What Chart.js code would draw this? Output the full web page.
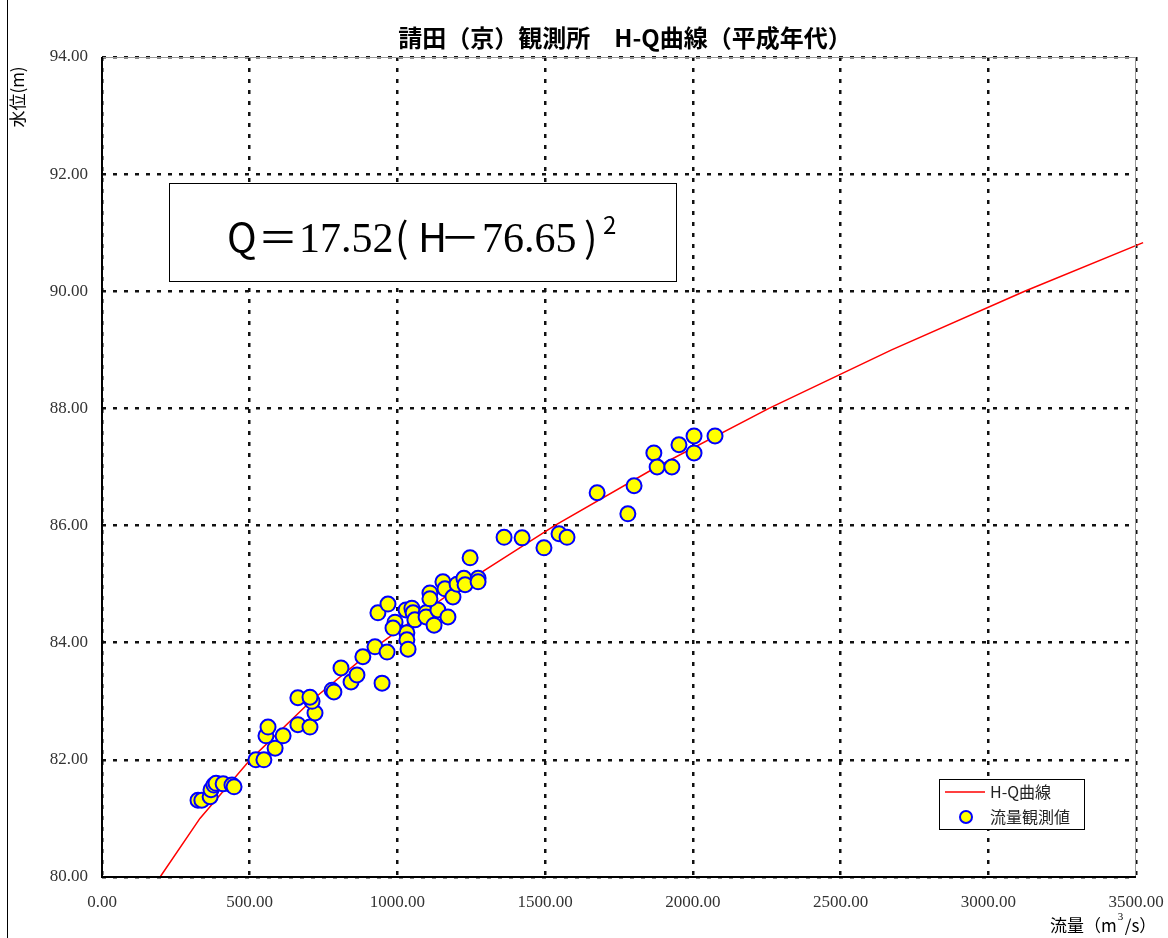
<!DOCTYPE html>
<html lang="ja">
<head>
<meta charset="UTF-8">
<title>請田（京）観測所 H-Q曲線</title>
<script src="https://cdn.jsdelivr.net/npm/chart.js@4.4.1/dist/chart.umd.min.js"></script>
<style>
  html, body { margin: 0; padding: 0; background: #fff; }
  #wrap { width: 1168px; height: 938px; }
</style>
</head>
<body>
<div id="wrap"><canvas id="hqChart" width="1168" height="938"></canvas></div>
<script>
// 流量観測値 (m3/s, m)
const obsQ = [325, 338, 366, 369, 379, 386, 410, 440, 447, 521, 548, 586, 555, 562, 613, 663, 704, 721,
  711, 663, 704, 779, 785, 809, 843, 863, 883, 924, 965, 948, 1032, 1032, 1036, 934, 968, 992, 985,
  1029, 1049, 1053, 1059, 1097, 1097, 1124, 1137, 1171, 1110, 1110, 1154, 1161, 1188, 1202, 1225,
  1229, 1273, 1273, 1246, 1361, 1422, 1496, 1547, 1574, 1676, 1780, 1801, 1868, 1879, 1929, 1953,
  2004, 2004, 2075];
const obsH = [81.31, 81.31, 81.37, 81.49, 81.57, 81.60, 81.59, 81.57, 81.54, 82.00, 82.00, 82.20,
  82.41, 82.56, 82.41, 82.60, 82.56, 82.80, 83.00, 83.06, 83.07, 83.19, 83.16, 83.57, 83.33, 83.45,
  83.76, 83.93, 83.84, 83.31, 84.17, 84.05, 83.89, 84.51, 84.66, 84.35, 84.25, 84.56, 84.59, 84.51,
  84.39, 84.51, 84.44, 84.30, 84.56, 84.44, 84.85, 84.75, 85.04, 84.92, 84.78, 85.00, 85.10, 84.99,
  85.10, 85.04, 85.45, 85.80, 85.79, 85.62, 85.86, 85.80, 86.56, 86.20, 86.68, 87.24, 87.00, 87.00,
  87.38, 87.53, 87.24, 87.53];

// H-Q曲線
const curveQ = [196.6, 331.5, 501.4, 706.5, 946.6, 1221.7, 1532.0, 1877.3, 2257.5, 2672.8, 3123.0, 3524];
const curveH = [80, 81, 82, 83, 84, 85, 86, 87, 88, 89, 90, 90.83];

const xTicks = [0, 500, 1000, 1500, 2000, 2500, 3000, 3500];
const yTicks = [80, 82, 84, 86, 88, 90, 92, 94];

const serif = '"Liberation Serif", "DejaVu Serif", serif';
const jp = '"Noto Sans CJK JP", "Noto Sans", sans-serif';

// タイトル・式・凡例など
const decorPlugin = {
  id: 'decor',
  afterDraw(chart) {
    const ctx = chart.ctx;
    const a = chart.chartArea;
    ctx.save();

    // 外枠（左）
    ctx.strokeStyle = '#000';
    ctx.lineWidth = 1;
    ctx.beginPath();
    ctx.moveTo(7.5, 0);
    ctx.lineTo(7.5, chart.height);
    ctx.stroke();

    // 軸
    ctx.strokeStyle = '#999';
    ctx.beginPath();
    ctx.moveTo(a.left, a.top + 0.5);
    ctx.lineTo(a.right, a.top + 0.5);
    ctx.moveTo(a.right - 0.5, a.top);
    ctx.lineTo(a.right - 0.5, a.bottom);
    ctx.stroke();
    ctx.strokeStyle = '#000';
    ctx.lineWidth = 2;
    ctx.beginPath();
    ctx.moveTo(a.left, a.top);
    ctx.lineTo(a.left, a.bottom);
    ctx.lineTo(a.right, a.bottom);
    ctx.stroke();

    // タイトル
    ctx.fillStyle = '#000';
    ctx.font = 'bold 24px ' + jp;
    ctx.textAlign = 'center';
    ctx.textBaseline = 'middle';
    ctx.fillText('請田（京）観測所　H-Q曲線（平成年代）', 625, 38);

    // 軸タイトル
    ctx.font = '17px ' + jp;
    ctx.save();
    ctx.translate(18, 97);
    ctx.rotate(-Math.PI / 2);
    ctx.fillText('水位(m)', 0, 0);
    ctx.restore();

    ctx.textAlign = 'left';
    ctx.font = '17px ' + jp;
    ctx.fillText('流量（m', 1050, 926);
    let w = ctx.measureText('流量（m').width;
    ctx.font = '11px ' + serif;
    ctx.fillText('3', 1050 + w + 1, 917);
    ctx.font = '17px ' + jp;
    ctx.fillText('/s）', 1050 + w + 8, 926);

    // 式の枠
    ctx.fillStyle = '#fff';
    ctx.fillRect(169, 183, 507, 98);
    ctx.strokeStyle = '#000';
    ctx.lineWidth = 1;
    ctx.strokeRect(169.5, 183.5, 507, 98);

    ctx.fillStyle = '#000';
    ctx.textBaseline = 'alphabetic';
    const parts = [
      ['Q', '40px ' + jp, 227],
      ['＝', '40px ' + jp, 258],
      ['17.52', '42px ' + serif, 299],
      ['(', '40px ' + jp, 395],
      ['H', '40px ' + jp, 418],
      ['－', '40px ' + jp, 440],
      ['76.65', '42px ' + serif, 482],
      [')', '40px ' + jp, 584],
      ['2', '24px ' + jp, 603]
    ];
    parts.forEach(([t, f, px]) => {
      ctx.font = f;
      ctx.fillText(t, px, t === '2' ? 234 : 252);
    });

    // 凡例
    ctx.fillStyle = '#fff';
    ctx.fillRect(939, 779, 145, 50);
    ctx.strokeStyle = '#000';
    ctx.strokeRect(939.5, 779.5, 145, 50);
    ctx.strokeStyle = '#ff0000';
    ctx.lineWidth = 1.5;
    ctx.beginPath();
    ctx.moveTo(945, 792);
    ctx.lineTo(985, 792);
    ctx.stroke();
    ctx.beginPath();
    ctx.arc(966, 817, 6, 0, Math.PI * 2);
    ctx.fillStyle = '#ffff00';
    ctx.fill();
    ctx.strokeStyle = '#0000ff';
    ctx.lineWidth = 2;
    ctx.stroke();
    ctx.fillStyle = '#222';
    ctx.font = '16px ' + jp;
    ctx.textBaseline = 'middle';
    ctx.fillText('H-Q曲線', 990, 792);
    ctx.fillText('流量観測値', 990, 817);

    ctx.restore();
  }
};

const hqCtx = document.getElementById('hqChart').getContext('2d');
new Chart(hqCtx, {
  type: 'scatter',
  data: {
    datasets: [{
      label: '流量観測値',
      data: obsQ.map((q, i) => ({ x: q, y: obsH[i] })),
      backgroundColor: '#ffff00',
      borderColor: '#0000ff',
      borderWidth: 2,
      pointRadius: 7.5
    }, {
      label: 'H-Q曲線',
      type: 'line',
      data: curveQ.map((q, i) => ({ x: q, y: curveH[i] })),
      borderColor: '#ff0000',
      borderWidth: 1.5,
      pointRadius: 0,
      tension: 0,
      fill: false,
      clip: false
    }]
  },
  options: {
    responsive: false,
    animation: false,
    layout: { padding: { top: 57, right: 32, bottom: 0, left: 0 } },
    plugins: {
      legend: { display: false },
      tooltip: { enabled: false }
    },
    scales: {
      x: {
        type: 'linear',
        min: 0,
        max: 3500,
        afterBuildTicks: s => { s.ticks = xTicks.map(v => ({ value: v })); },
        afterFit: s => { s.height = 61; s.paddingLeft = 0; s.paddingRight = 0; },
        ticks: {
          padding: 15,
          color: '#333',
          font: { family: serif, size: 17 },
          maxRotation: 0,
          callback: v => Number(v).toFixed(2)
        },
        grid: { color: '#111', lineWidth: 2.5, drawTicks: false },
        border: { display: false, dash: [4, 7] }
      },
      y: {
        min: 80,
        max: 94,
        afterBuildTicks: s => { s.ticks = yTicks.map(v => ({ value: v })); },
        afterFit: s => { s.width = 102; s.paddingTop = 0; s.paddingBottom = 0; },
        ticks: {
          padding: 14,
          color: '#333',
          font: { family: serif, size: 17 },
          callback: v => Number(v).toFixed(2)
        },
        grid: { color: '#111', lineWidth: 2.5, drawTicks: false },
        border: { display: false, dash: [4, 7] }
      }
    }
  },
  plugins: [decorPlugin]
});
</script>
</body>
</html>
